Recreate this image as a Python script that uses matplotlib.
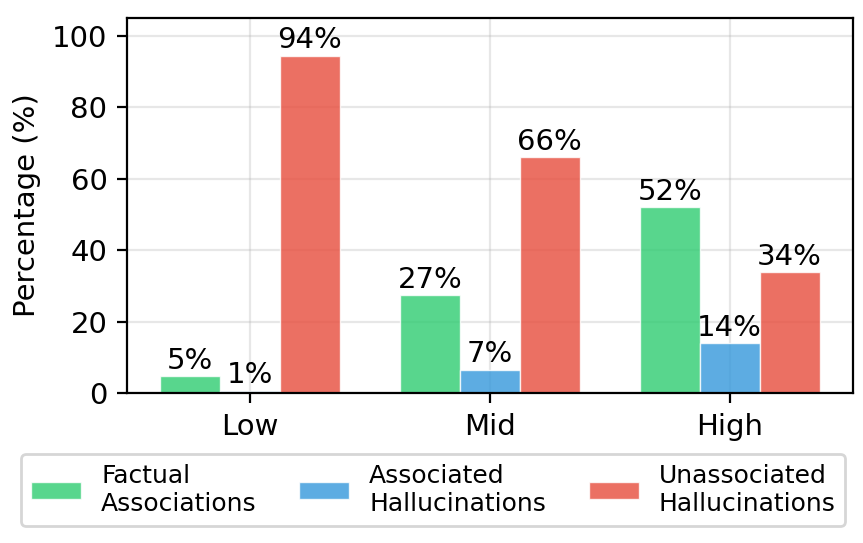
import numpy as np
import matplotlib.pyplot as plt

groups = ["Low", "Mid", "High"]
series = ["Factual\nAssociations", "Associated\nHallucinations", "Unassociated\nHallucinations"]
factual = [4.8, 27.4, 52.1]
associated = [0.7, 6.6, 14.0]
unassociated = [94.4, 66.1, 33.9]
colors = ["#2ecc71", "#3498db", "#e74c3c"]

fig, ax = plt.subplots(figsize=(4.315, 2.715), dpi=200)
fig.subplots_adjust(left=0.147, right=0.988, top=0.967, bottom=0.276)

x = np.arange(len(groups))
w = 0.25
for i, (vals, lab, c) in enumerate(zip([factual, associated, unassociated], series, colors)):
    b = ax.bar(x + (i - 1) * w, vals, w, color=c, alpha=0.8, label=lab,
               edgecolor="white", linewidth=0.5)
    ax.bar_label(b, labels=[f"{v:.0f}%" for v in vals], padding=0.5, fontsize=10.5)

ax.set_xticks(x)
ax.set_xticklabels(groups, fontsize=10.5)
ax.tick_params(axis="y", labelsize=10.5)
ax.set_ylabel("Percentage (%)", fontsize=10.5)
ax.set_ylim(0, 105)
ax.grid(True, alpha=0.3)
ax.set_axisbelow(True)

fig.legend(loc="center", bbox_to_anchor=(0.502, 0.098), ncol=3, fontsize=9,
           columnspacing=1.7)

fig.savefig("out.png", dpi=200)
